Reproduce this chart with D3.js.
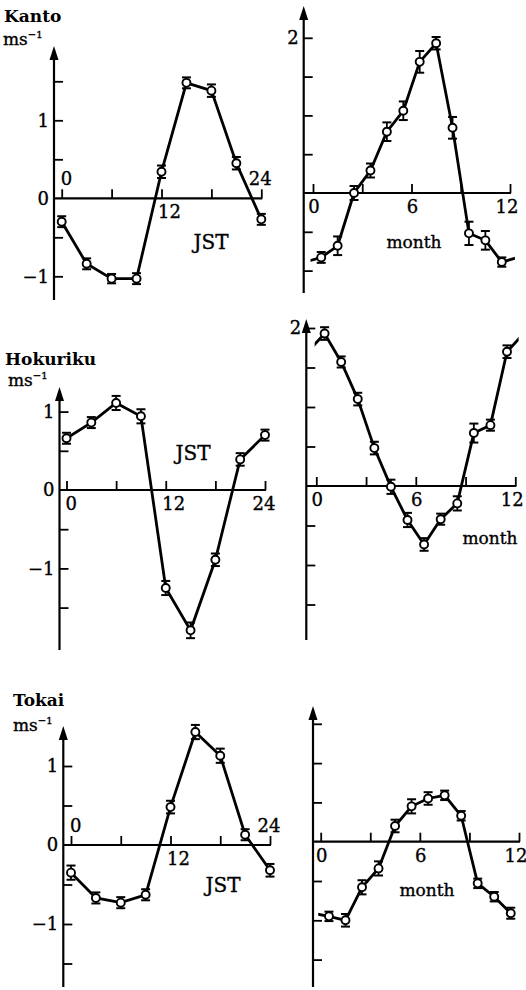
<!DOCTYPE html>
<html><head><meta charset="utf-8">
<script src="https://cdn.jsdelivr.net/npm/d3@7"></script>
<style>
html,body{margin:0;padding:0;background:#fff;}
svg{display:block;}
text{font-family:"DejaVu Serif","Liberation Serif",serif;fill:#000;stroke:#000;stroke-width:0.35px;}
</style></head>
<body>
<svg id="c" width="526" height="990"></svg>
<script>
// ---------- data ----------
const hours = [0, 3, 6, 9, 12, 15, 18, 21, 24];
const months = [0.5, 1.5, 2.5, 3.5, 4.5, 5.5, 6.5, 7.5, 8.5, 9.5, 10.5, 11.5];
const hourTicks = [0, 6, 12, 18, 24];
const monthTicks = [0, 3, 6, 9, 12];
const regions = ["Kanto", "Hokuriku", "Tokai"];

const kantoDiurnal = [-0.30, -0.84, -1.03, -1.03, 0.34, 1.48, 1.38, 0.45, -0.27];
const kantoDiurnalErr = [0.07, 0.07, 0.06, 0.07, 0.08, 0.07, 0.08, 0.08, 0.07];
const kantoAnnual = [-0.83, -0.68, 0.00, 0.29, 0.79, 1.06, 1.69, 1.93, 0.84, -0.52, -0.61, -0.89];
const kantoAnnualErr = [0.07, 0.12, 0.09, 0.09, 0.12, 0.12, 0.14, 0.08, 0.14, 0.15, 0.12, 0.06];

const hokurikuDiurnal = [0.66, 0.86, 1.11, 0.94, -1.25, -1.79, -0.89, 0.39, 0.70];
const hokurikuDiurnalErr = [0.07, 0.07, 0.09, 0.09, 0.09, 0.10, 0.08, 0.08, 0.07];
const hokurikuAnnual = [1.93, 1.57, 1.10, 0.48, -0.01, -0.43, -0.74, -0.42, -0.22, 0.67, 0.77, 1.70];
const hokurikuAnnualErr = [0.08, 0.07, 0.08, 0.08, 0.09, 0.09, 0.08, 0.07, 0.09, 0.12, 0.07, 0.08];

const tokaiDiurnal = [-0.35, -0.67, -0.73, -0.63, 0.48, 1.43, 1.13, 0.13, -0.32];
const tokaiDiurnalErr = [0.09, 0.07, 0.07, 0.07, 0.08, 0.09, 0.09, 0.07, 0.08];
const tokaiAnnual = [-0.95, -1.00, -0.58, -0.34, 0.20, 0.45, 0.55, 0.59, 0.33, -0.53, -0.70, -0.91];
const tokaiAnnualErr = [0.06, 0.08, 0.09, 0.09, 0.08, 0.09, 0.08, 0.06, 0.06, 0.06, 0.06, 0.07];

// ---------- layout ----------
const panels = [
  {kind:"d", title:"Kanto", vals:kantoDiurnal, err:kantoDiurnalErr, px0:61.7, px1:261.3, zy:198.3, ppu:78,
   ax:54, tip:46, bot:300, yLab:{"1":1,"0":0,"-1":-1}, xLab:[[0,"above"],[12,"below"],[24,"above"]],
   name:[4,22], unit:[3,45], unitLab:"JST", ul:[211,249], ticksY:[-1,-0.5,0.5,1,1.5]},
  {kind:"a", vals:kantoAnnual, err:kantoAnnualErr, px0:313, px1:510, zy:193, ppu:77.6,
   ax:303.7, tip:6, bot:293, yLab:{"2":2}, ul:[414,248], clip:[-0.15,12.3], ticksY:[-1,-0.5,0.5,1,1.5,2]},
  {kind:"d", title:"Hokuriku", vals:hokurikuDiurnal, err:hokurikuDiurnalErr, px0:66.5, px1:265, zy:490, ppu:78.4,
   ax:59.5, tip:387, bot:650, yLab:{"1":1,"0":0,"-1":-1}, xLab:[[0,"below"],[12,"below"],[24,"below"]],
   name:[5,365], unit:[8,386], unitLab:"JST", ul:[193,460], ticksY:[-1.5,-1,-0.5,0.5,1]},
  {kind:"a", vals:hokurikuAnnual, err:hokurikuAnnualErr, px0:316.3, px1:515.3, zy:486, ppu:79,
   ax:306.3, tip:319, bot:640, yLab:{"2":2}, ul:[490,544], clip:[-0.1,12.2], ticksY:[-1.5,-1,-0.5,0.5,1,1.5,2]},
  {kind:"d", title:"Tokai", vals:tokaiDiurnal, err:tokaiDiurnalErr, px0:71, px1:270, zy:845, ppu:79,
   ax:63.3, tip:726, bot:987, yLab:{"1":1,"0":0,"-1":-1}, xLab:[[0,"above"],[12,"below"],[24,"above"]],
   name:[13,706], unit:[13,731], unitLab:"JST", ul:[223,892], ticksY:[-1.5,-1,-0.5,0.5,1]},
  {kind:"a", vals:tokaiAnnual, err:tokaiAnnualErr, px0:320.7, px1:519, zy:841.7, ppu:78.6,
   ax:313, tip:706, bot:987, yLab:{}, ul:[427,896], clip:[-0.15,11.75], ticksY:[-1.5,-1,-0.5,0.5,1,1.5]}
];

const svg = d3.select("#c");

panels.forEach((p, pi) => {
  const g = svg.append("g");
  const xs = p.kind === "d" ? hours : months;
  const xDom = p.kind === "d" ? [0, 24] : [0, 12];
  const x = d3.scaleLinear().domain(xDom).range([p.px0, p.px1]);
  const y = d3.scaleLinear().domain([0, 1]).range([p.zy, p.zy - p.ppu]);

  // y axis line + arrow
  g.append("line").attr("x1", p.ax).attr("x2", p.ax).attr("y1", p.tip + 8).attr("y2", p.bot)
    .attr("stroke", "#000").attr("stroke-width", 2.2);
  g.append("path").attr("d", `M${p.ax},${p.tip} L${p.ax - 4.5},${p.tip + 14} L${p.ax + 4.5},${p.tip + 14} Z`)
    .attr("fill", "#000");

  // y ticks via axis (ticks to the right)
  const yAxis = d3.axisLeft(y).tickValues(p.ticksY).tickSize(-9).tickFormat("");
  const ya = g.append("g").attr("transform", `translate(${p.ax},0)`).call(yAxis);
  ya.select(".domain").remove();
  ya.selectAll(".tick line").attr("stroke", "#000").attr("stroke-width", 1.8);

  // y labels
  Object.entries(p.yLab).forEach(([lab, v]) => {
    g.append("text").attr("x", p.ax - 5).attr("y", y(v)).attr("dy", "0.36em")
      .attr("text-anchor", "end").style("font-size", "18px")
      .text(lab.replace("-", "\u2212"));
  });

  // x axis line
  const xEnd = x(xDom[1]);
  g.append("line").attr("x1", p.ax).attr("x2", xEnd + 1).attr("y1", y(0)).attr("y2", y(0))
    .attr("stroke", "#000").attr("stroke-width", 2.2);
  const xAxis = d3.axisTop(x).tickValues(p.kind === "d" ? hourTicks : monthTicks).tickSize(9).tickFormat("");
  const xa = g.append("g").attr("transform", `translate(0,${y(0)})`).call(xAxis);
  xa.select(".domain").remove();
  xa.selectAll(".tick line").attr("stroke", "#000").attr("stroke-width", 1.8);

  // x labels
  if (p.kind === "d") {
    p.xLab.forEach(([v, pos]) => {
      g.append("text").attr("x", x(v) + (v === 24 ? -1 : 2)).attr("y", pos === "above" ? y(0) - 13 : y(0) + 20)
        .attr("text-anchor", v === 0 ? "start" : "middle").style("font-size", "18px")
        .attr("dx", v === 0 ? -3 : (v === 12 ? 6 : 0))
        .text(v);
    });
  } else {
    [0, 6, 12].forEach(v => {
      g.append("text").attr("x", x(v) + (v === 12 ? -3 : 1)).attr("y", y(0) + 20)
        .attr("text-anchor", "middle").style("font-size", "18px").text(v);
    });
  }

  // titles
  if (p.title) {
    g.append("text").attr("x", p.name[0]).attr("y", p.name[1]).style("font-size", "17px")
      .style("font-weight", "bold").style("stroke-width", "0px").text(p.title);
    const u = g.append("text").attr("x", p.unit[0]).attr("y", p.unit[1]).style("font-size", "17px");
    u.append("tspan").text("ms");
    u.append("tspan").attr("dy", -7).style("font-size", "10px").text("\u22121");
  }
  // unit label
  g.append("text").attr("x", p.ul[0]).attr("y", p.ul[1]).attr("text-anchor", "middle")
    .style("font-size", p.kind === "d" ? "20px" : "17px")
    .text(p.kind === "d" ? p.unitLab : "month");

  // data
  let pts = xs.map((xv, i) => ({x: xv, v: p.vals[i], e: p.err[i]}));
  let linePts = pts;
  const line = d3.line().x(d => x(d.x)).y(d => y(d.v));
  if (p.kind === "a") {
    const cid = "clip" + pi;
    svg.append("clipPath").attr("id", cid).append("rect")
      .attr("x", x(p.clip[0])).attr("width", x(p.clip[1]) - x(p.clip[0]))
      .attr("y", 0).attr("height", 990);
    const n = pts.length;
    linePts = [{x: pts[n - 1].x - 12, v: pts[n - 1].v}, ...pts, {x: pts[0].x + 12, v: pts[0].v}];
    g.append("path").attr("d", line(linePts)).attr("fill", "none").attr("stroke", "#000")
      .attr("stroke-width", 2.8).attr("clip-path", `url(#${cid})`);
  } else {
    g.append("path").attr("d", line(linePts)).attr("fill", "none").attr("stroke", "#000")
      .attr("stroke-width", 2.8);
  }
  // error bars
  const eb = g.selectAll(".eb").data(pts).enter().append("g");
  eb.append("line").attr("x1", d => x(d.x)).attr("x2", d => x(d.x))
    .attr("y1", d => y(d.v + d.e)).attr("y2", d => y(d.v - d.e)).attr("stroke", "#000").attr("stroke-width", 1.8);
  [1, -1].forEach(s => {
    eb.append("line").attr("x1", d => x(d.x) - 4.5).attr("x2", d => x(d.x) + 4.5)
      .attr("y1", d => y(d.v + s * d.e)).attr("y2", d => y(d.v + s * d.e))
      .attr("stroke", "#000").attr("stroke-width", 2);
  });
  g.selectAll(".pt").data(pts).enter().append("circle")
    .attr("cx", d => x(d.x)).attr("cy", d => y(d.v)).attr("r", 4)
    .attr("fill", "#fff").attr("stroke", "#000").attr("stroke-width", 1.9);
});
</script>
</body></html>
